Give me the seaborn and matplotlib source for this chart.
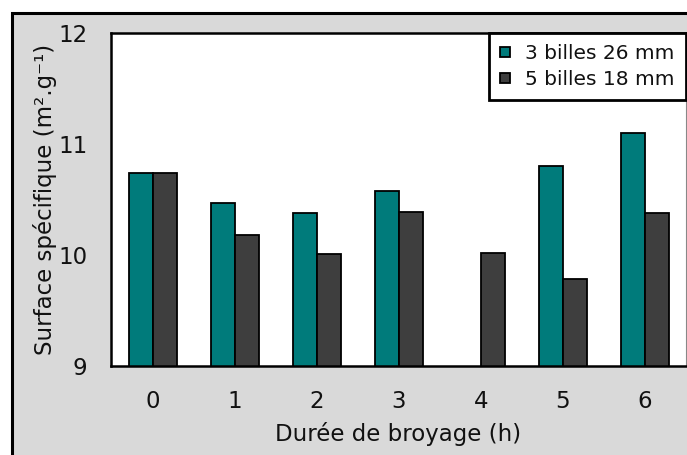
import matplotlib
matplotlib.use("Agg")
import matplotlib.pyplot as plt
from matplotlib.patches import Rectangle
import numpy as np
import pandas as pd
import seaborn as sns

# Specific surface area vs milling time for two ball loads
durees = ["0", "1", "2", "3", "4", "5", "6"]
serie_a = "3 billes 26 mm"
serie_b = "5 billes 18 mm"
surface_a = [10.74, 10.47, 10.38, 10.58, np.nan, 10.80, 11.10]
surface_b = [10.74, 10.18, 10.01, 10.39, 10.02, 9.78, 10.38]
y_ticks = [9, 10, 11, 12]

couleurs = {serie_a: "#007b7b", serie_b: "#3e3e3e"}

df = pd.DataFrame({
    "duree": durees * 2,
    "surface": surface_a + surface_b,
    "serie": [serie_a] * len(durees) + [serie_b] * len(durees),
})

sns.set_style("white")
plt.rcParams["font.family"] = ["DejaVu Sans"]

W, H = 687, 455
fig = plt.figure(figsize=(W / 100, H / 100), dpi=100)
fig.patch.set_facecolor("white")

# grey chart background with a black frame on the visible sides
fig.patches.append(Rectangle((12 / W, -0.05), 1.2, (H - 13) / H + 0.05,
                             transform=fig.transFigure, facecolor="#d9d9d9",
                             edgecolor="black", linewidth=2.2, zorder=-10))

ax = fig.add_axes([111 / W, 89 / H, 575 / W, 333 / H])
ax.set_facecolor("white")

sns.barplot(data=df, x="duree", y="surface", hue="serie", order=durees,
            hue_order=[serie_a, serie_b], palette=couleurs, saturation=1,
            width=0.58, edgecolor="black", linewidth=1.3, errorbar=None, ax=ax)

ax.set_ylim(9, 12)
ax.set_xlim(-0.51, 6.5)
ax.set_yticks(y_ticks)
ax.set_yticklabels([str(v) for v in y_ticks])
ax.tick_params(axis="both", length=0, labelsize=16.5, colors="#111111")
ax.tick_params(axis="y", pad=17)
ax.tick_params(axis="x", pad=17)

ax.set_xlabel("Durée de broyage (h)", fontsize=16.5, labelpad=7, color="#111111")
ax.set_ylabel("Surface spécifique (m².g⁻¹)", fontsize=16.5, labelpad=1,
              color="#111111")

for side in ["left", "top", "bottom"]:
    ax.spines[side].set_color("black")
    ax.spines[side].set_linewidth(1.8)
ax.spines["right"].set_color("#888888")
ax.spines["right"].set_linewidth(0.8)

leg = ax.legend(loc="upper right", fontsize=14.5, frameon=True, fancybox=False,
                borderaxespad=0, handlelength=0.5, handleheight=0.4,
                handletextpad=0.75, borderpad=0.55, labelspacing=0.35)
leg.get_frame().set_edgecolor("black")
leg.get_frame().set_linewidth(2.0)
leg.get_frame().set_alpha(1)
for t in leg.get_texts():
    t.set_color("#111111")

fig.savefig("out.png", dpi=100)
